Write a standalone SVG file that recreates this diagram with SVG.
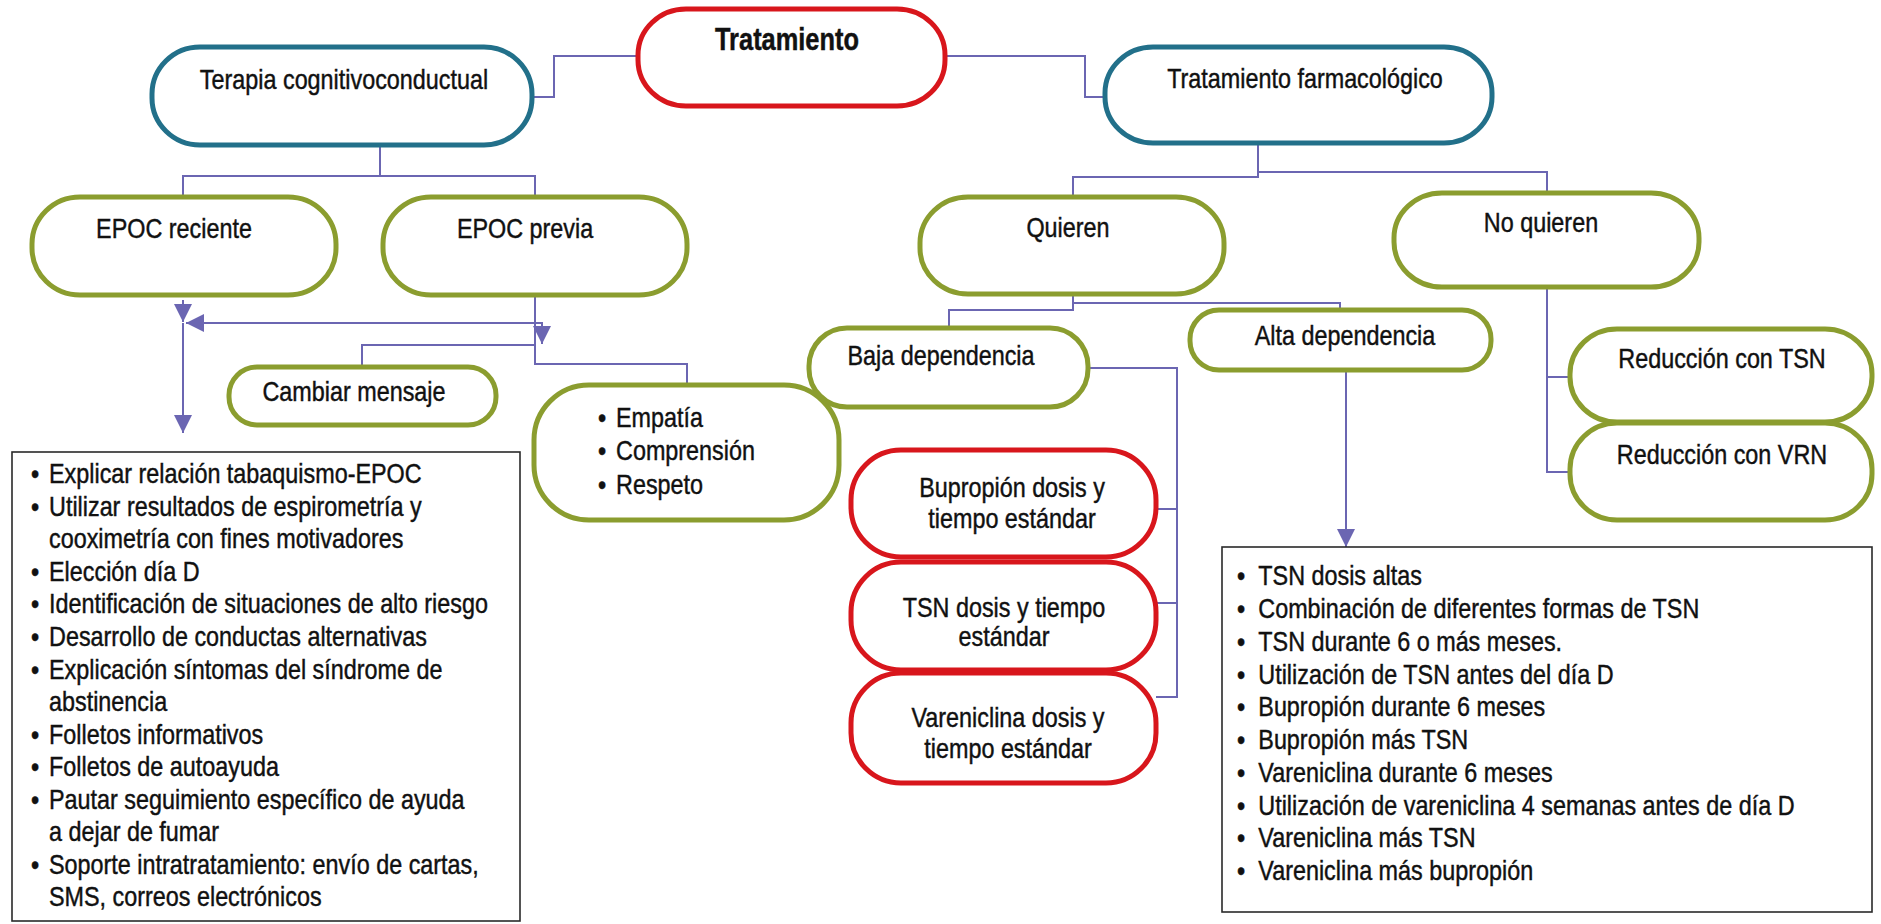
<svg xmlns="http://www.w3.org/2000/svg" width="1881" height="924" viewBox="0 0 1881 924">
  <style>
    .pill { fill: #ffffff; stroke-width: 5; }
    .red { stroke: #d8161c; }
    .teal { stroke: #22708a; }
    .green { stroke: #8b9d2f; }
    .box { fill: #ffffff; stroke: #2a2a2a; stroke-width: 1.6; }
    /* condensed sans: regular face narrowed horizontally around its own box */
    .lbl { font-family: "Liberation Sans", Arial, sans-serif; font-size: 28.5px; fill: #111111;
           stroke: #111111; stroke-width: 0.45;
           transform-box: fill-box; transform-origin: 0 0; transform: scaleX(0.82); }
    .mid { text-anchor: middle; transform-origin: 50% 0; }
    .bold { font-weight: bold; font-size: 31px; }
    .link { fill: none; stroke: #6b66b2; stroke-width: 2; }
  </style>
  <defs>
    <marker id="arrow" markerUnits="userSpaceOnUse" viewBox="0 0 18 18" markerWidth="18" markerHeight="18" refX="18" refY="9" orient="auto">
      <path d="M0,0 L18,9 L0,18 Z" fill="#6b66b2"/>
    </marker>
  </defs>
  <rect width="1881" height="924" fill="#ffffff"/>

  <!-- connectors -->
  <g id="connectors">
    <path class="link" d="M638,56 H554 V97 H532"/>
    <path class="link" d="M945,56 H1085 V97 H1105"/>
    <path class="link" d="M380,145 V176"/>
    <path class="link" d="M183,197 V176 H535 V197"/>
    <path class="link" d="M1258,143 V177 H1073 V197"/>
    <path class="link" d="M1258,172 H1547 V193"/>
    <path class="link" d="M1073,294 V310 H949 V328"/>
    <path class="link" d="M1073,303 H1340 V310"/>
    <path class="link" d="M535,295 V364 H687 V385"/>
    <path class="link" d="M535,345 H362 V367"/>
    <path class="link" d="M183,300 V322" marker-end="url(#arrow)"/>
    <path class="link" d="M543,323 H186" marker-end="url(#arrow)"/>
    <path class="link" d="M542,323 V344" marker-end="url(#arrow)"/>
    <path class="link" d="M183,323 V433" marker-end="url(#arrow)"/>
    <path class="link" d="M1088,368 H1177 V697 H1156"/>
    <path class="link" d="M1177,509 H1156"/>
    <path class="link" d="M1177,603 H1156"/>
    <path class="link" d="M1346,370 V547" marker-end="url(#arrow)"/>
    <path class="link" d="M1547,287 V472 H1570"/>
    <path class="link" d="M1547,377 H1570"/>
  </g>

  <g id="tratamiento">
    <rect class="pill red" x="638" y="9" width="307" height="97" rx="48" ry="46"/>
    <text class="lbl bold mid" x="787" y="50">Tratamiento</text>
  </g>
  <g id="terapia">
    <rect class="pill teal" x="152" y="47" width="380" height="98" rx="48" ry="47"/>
    <text class="lbl mid" x="344" y="89">Terapia cognitivoconductual</text>
  </g>
  <g id="farmacologico">
    <rect class="pill teal" x="1105" y="47" width="387" height="96" rx="48" ry="46"/>
    <text class="lbl mid" x="1305" y="88">Tratamiento farmacológico</text>
  </g>
  <g id="epoc-reciente">
    <rect class="pill green" x="32" y="197" width="304" height="98" rx="48" ry="47"/>
    <text class="lbl mid" x="174" y="238">EPOC reciente</text>
  </g>
  <g id="epoc-previa">
    <rect class="pill green" x="383" y="197" width="304" height="98" rx="48" ry="47"/>
    <text class="lbl mid" x="525" y="238">EPOC previa</text>
  </g>
  <g id="quieren">
    <rect class="pill green" x="920" y="197" width="304" height="97" rx="48" ry="46"/>
    <text class="lbl mid" x="1068" y="237">Quieren</text>
  </g>
  <g id="no-quieren">
    <rect class="pill green" x="1394" y="193" width="305" height="94" rx="48" ry="45"/>
    <text class="lbl mid" x="1541" y="232">No quieren</text>
  </g>
  <g id="cambiar-mensaje">
    <rect class="pill green" x="229" y="367" width="267" height="58" rx="28" ry="28"/>
    <text class="lbl mid" x="354" y="401">Cambiar mensaje</text>
  </g>
  <g id="empatia">
    <rect class="pill green" x="534" y="385" width="305" height="135" rx="55" ry="55"/>
    <text class="lbl" y="427"><tspan x="598">•</tspan><tspan x="620">Empatía</tspan></text>
    <text class="lbl" y="460"><tspan x="598">•</tspan><tspan x="620">Comprensión</tspan></text>
    <text class="lbl" y="494"><tspan x="598">•</tspan><tspan x="620">Respeto</tspan></text>
  </g>
  <g id="baja-dependencia">
    <rect class="pill green" x="809" y="328" width="279" height="79" rx="38" ry="38"/>
    <text class="lbl mid" x="941" y="365">Baja dependencia</text>
  </g>
  <g id="alta-dependencia">
    <rect class="pill green" x="1190" y="310" width="301" height="60" rx="29" ry="29"/>
    <text class="lbl mid" x="1345" y="345">Alta dependencia</text>
  </g>
  <g id="reduccion-tsn">
    <rect class="pill green" x="1570" y="329" width="302" height="93" rx="47" ry="45"/>
    <text class="lbl mid" x="1722" y="368">Reducción con TSN</text>
  </g>
  <g id="reduccion-vrn">
    <rect class="pill green" x="1570" y="423" width="302" height="97" rx="47" ry="46"/>
    <text class="lbl mid" x="1722" y="464">Reducción con VRN</text>
  </g>
  <g id="bupropion">
    <rect class="pill red" x="851" y="450" width="305" height="107" rx="50" ry="50"/>
    <text class="lbl mid" x="1012" y="497">Bupropión dosis y</text>
    <text class="lbl mid" x="1012" y="528">tiempo estándar</text>
  </g>
  <g id="tsn-estandar">
    <rect class="pill red" x="851" y="562" width="305" height="108" rx="50" ry="50"/>
    <text class="lbl mid" x="1004" y="617">TSN dosis y tiempo</text>
    <text class="lbl mid" x="1004" y="646">estándar</text>
  </g>
  <g id="vareniclina">
    <rect class="pill red" x="851" y="673" width="305" height="110" rx="50" ry="50"/>
    <text class="lbl mid" x="1008" y="727">Vareniclina dosis y</text>
    <text class="lbl mid" x="1008" y="758">tiempo estándar</text>
  </g>

  <g id="medidas-tcc">
    <rect class="box" x="12" y="452" width="508" height="469"/>
    <text class="lbl" y="483"><tspan x="31">•</tspan><tspan x="53">Explicar relación tabaquismo-EPOC</tspan></text>
    <text class="lbl" y="516"><tspan x="31">•</tspan><tspan x="53">Utilizar resultados de espirometría y</tspan></text>
    <text class="lbl" y="548" x="49">cooximetría con fines motivadores</text>
    <text class="lbl" y="581"><tspan x="31">•</tspan><tspan x="53">Elección día D</tspan></text>
    <text class="lbl" y="613"><tspan x="31">•</tspan><tspan x="53">Identificación de situaciones de alto riesgo</tspan></text>
    <text class="lbl" y="646"><tspan x="31">•</tspan><tspan x="53">Desarrollo de conductas alternativas</tspan></text>
    <text class="lbl" y="679"><tspan x="31">•</tspan><tspan x="53">Explicación síntomas del síndrome de</tspan></text>
    <text class="lbl" y="711" x="49">abstinencia</text>
    <text class="lbl" y="744"><tspan x="31">•</tspan><tspan x="53">Folletos informativos</tspan></text>
    <text class="lbl" y="776"><tspan x="31">•</tspan><tspan x="53">Folletos de autoayuda</tspan></text>
    <text class="lbl" y="809"><tspan x="31">•</tspan><tspan x="53">Pautar seguimiento específico de ayuda</tspan></text>
    <text class="lbl" y="841" x="49">a dejar de fumar</text>
    <text class="lbl" y="874"><tspan x="31">•</tspan><tspan x="53">Soporte intratratamiento: envío de cartas,</tspan></text>
    <text class="lbl" y="906" x="49">SMS, correos electrónicos</text>
  </g>

  <g id="medidas-alta">
    <rect class="box" x="1222" y="547" width="650" height="365"/>
    <text class="lbl" y="585"><tspan x="1237">•</tspan><tspan x="1263">TSN dosis altas</tspan></text>
    <text class="lbl" y="618"><tspan x="1237">•</tspan><tspan x="1263">Combinación de diferentes formas de TSN</tspan></text>
    <text class="lbl" y="651"><tspan x="1237">•</tspan><tspan x="1263">TSN durante 6 o más meses.</tspan></text>
    <text class="lbl" y="684"><tspan x="1237">•</tspan><tspan x="1263">Utilización de TSN antes del día D</tspan></text>
    <text class="lbl" y="716"><tspan x="1237">•</tspan><tspan x="1263">Bupropión durante 6 meses</tspan></text>
    <text class="lbl" y="749"><tspan x="1237">•</tspan><tspan x="1263">Bupropión más TSN</tspan></text>
    <text class="lbl" y="782"><tspan x="1237">•</tspan><tspan x="1263">Vareniclina durante 6 meses</tspan></text>
    <text class="lbl" y="815"><tspan x="1237">•</tspan><tspan x="1263">Utilización de vareniclina 4 semanas antes de día D</tspan></text>
    <text class="lbl" y="847"><tspan x="1237">•</tspan><tspan x="1263">Vareniclina más TSN</tspan></text>
    <text class="lbl" y="880"><tspan x="1237">•</tspan><tspan x="1263">Vareniclina más bupropión</tspan></text>
  </g>
</svg>
